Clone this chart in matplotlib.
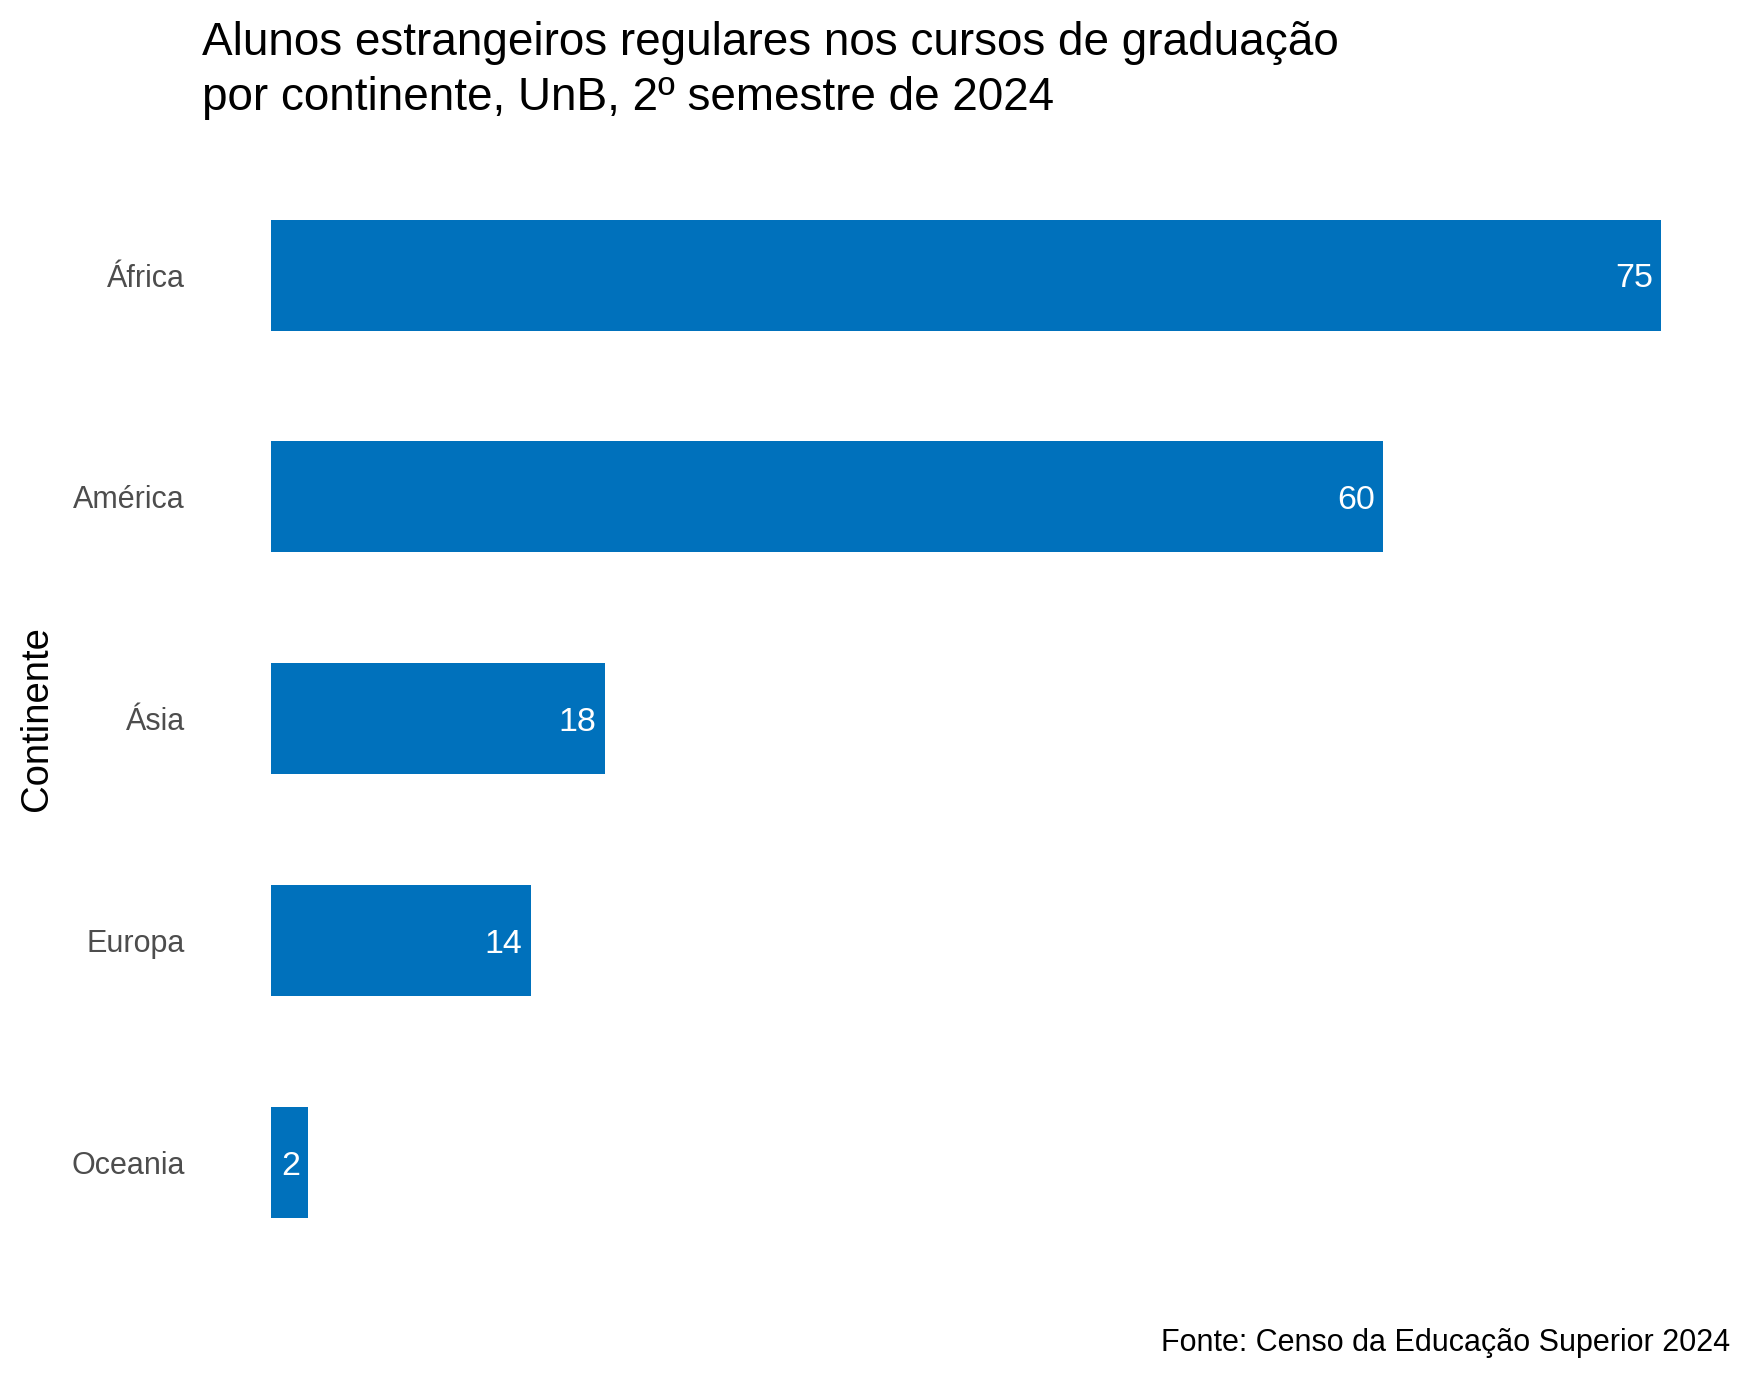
import matplotlib
matplotlib.use("Agg")
import numpy as np
from matplotlib import pyplot as plt

plt.rcParams.update({"font.family": ["Liberation Sans", "DejaVu Sans"],
                     "font.size": 22})

continentes = ["África", "América", "Ásia", "Europa", "Oceania"]
alunos = [75, 60, 18, 14, 2]
titulo = ["Alunos estrangeiros regulares nos cursos de graduação",
          "por continente, UnB, 2º semestre de 2024"]
fonte = "Fonte: Censo da Educação Superior 2024"

azul = "#0071BC"

fig = plt.figure(figsize=(17.5, 13.78), dpi=100)
ax = fig.add_axes([0.1154, 0.0597, 0.9889 - 0.1154, 0.897 - 0.0597])

y = np.arange(len(continentes))
ax.barh(y, alunos, height=0.5, color=azul)
for yi, v in zip(y, alunos):
    ax.annotate(str(v), (v, yi), xytext=(-6, 0), textcoords="offset points",
                ha="right", va="center_baseline", color="white", fontsize=24.5)

# expansao parecida com o ggplot
ax.set_xlim(-0.05 * max(alunos), 1.05 * max(alunos))
ax.set_ylim(len(continentes) - 0.4, -0.6)
ax.set_yticks(y)
ax.set_yticklabels(continentes, color="#4D4D4D", fontsize=22)
ax.tick_params(axis="y", length=0, pad=12.1)
ax.set_xticks([])
for s in ax.spines.values():
    s.set_visible(False)

fig.text(37 / 1750, 0.5 * (0.897 + 0.0597), "Continente", rotation=90,
         ha="center", va="center", fontsize=27.5)

fig.text(0.1154, 1 - 55 / 1378, titulo[0], ha="left", va="baseline", fontsize=33)
fig.text(0.1154, 1 - 110 / 1378, titulo[1], ha="left", va="baseline", fontsize=33)
fig.text(0.9889, 1 - 1351 / 1378, fonte, ha="right", va="baseline", fontsize=22)

plt.savefig("out.png", dpi=100)
